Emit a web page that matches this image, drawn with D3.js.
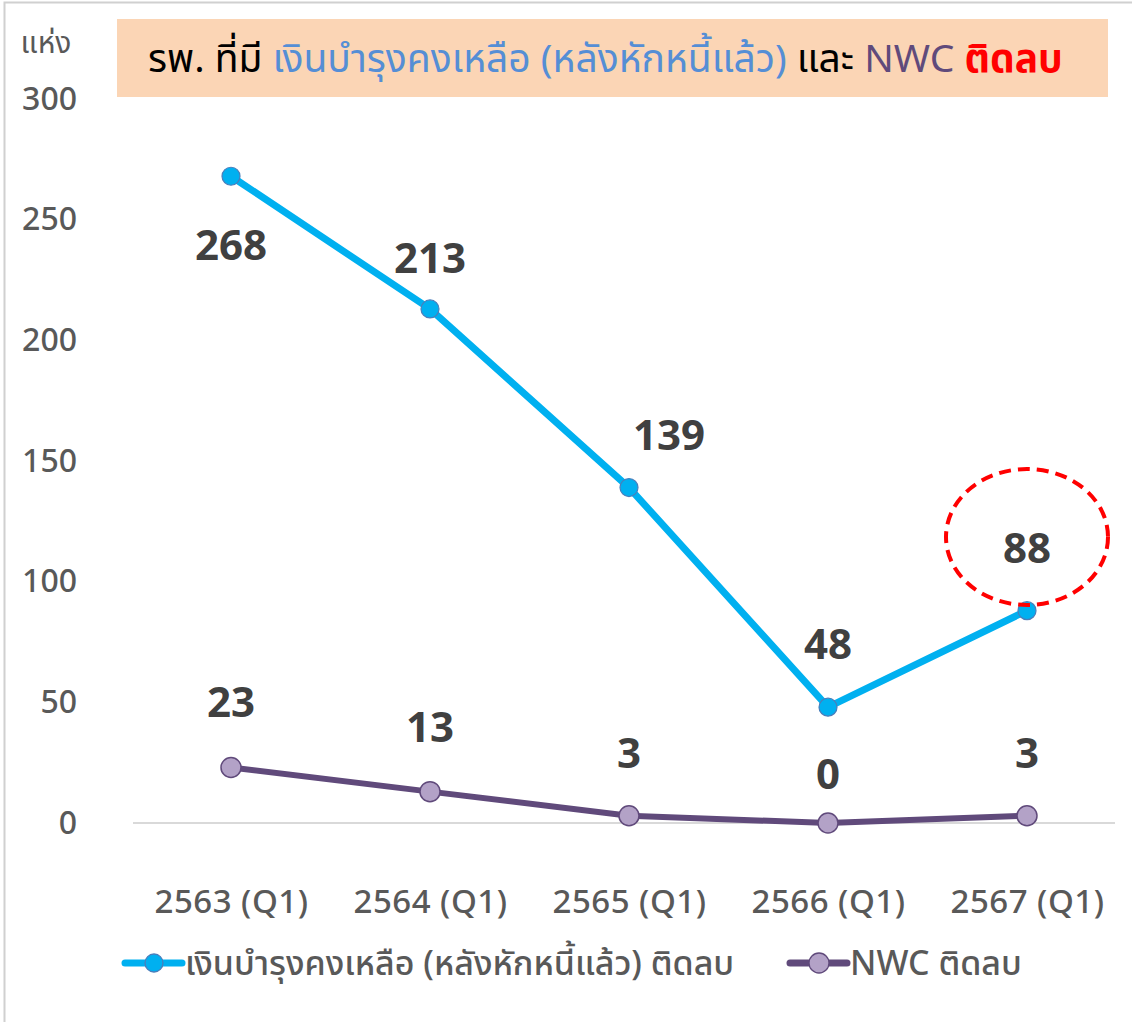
<!DOCTYPE html>
<html>
<head>
<meta charset="utf-8">
<script src="https://cdn.jsdelivr.net/npm/d3@7"></script>
<style>
  body { margin: 0; background: #fff; }
  svg text { font-family: "Noto Sans Thai", "Noto Sans", "Liberation Sans", sans-serif; }
</style>
</head>
<body>
<script>
var categories = ['2563 (Q1)', '2564 (Q1)', '2565 (Q1)', '2566 (Q1)', '2567 (Q1)'];
var fundNegative = [268, 213, 139, 48, 88];
var nwcNegative = [23, 13, 3, 0, 3];
var yTicks = [0, 50, 100, 150, 200, 250, 300];
var seriesNames = ['เงินบำรุงคงเหลือ (หลังหักหนี้แล้ว) ติดลบ', 'NWC ติดลบ'];

// label nudges (px), tuned by eye
var fundLabelDx = [0, 0, 40, 0, 0];
var fundLabelDy = [70, -50, -52, -62, -62];
var nwcLabelDy = [-64, -64, -62, -48, -62];

var w = 1132, h = 1022;

var svg = d3.select('body').append('svg')
  .attr('width', w)
  .attr('height', h);

svg.append('rect')
  .attr('x', 4.5).attr('y', 2.5)
  .attr('width', w + 10).attr('height', h + 10)
  .attr('fill', '#fff').attr('stroke', '#d0d0d0').attr('stroke-width', 2);

var x = d3.scalePoint().domain(categories).range([231, 1027]);
var y = d3.scaleLinear().domain([0, 300]).range([823, 99]);

// baseline
svg.append('line')
  .attr('x1', 133).attr('x2', 1115)
  .attr('y1', y(0)).attr('y2', y(0))
  .attr('stroke', '#d9d9d9').attr('stroke-width', 2);

// y axis labels
var yAxis = d3.axisLeft(y).tickValues(yTicks).tickSize(0).tickPadding(0);
var gy = svg.append('g').attr('transform', 'translate(77,0)').call(yAxis);
gy.select('.domain').remove();
gy.selectAll('text')
  .attr('fill', '#595959').attr('font-size', 32).attr('font-weight', 500);

svg.append('text')
  .attr('x', 46).attr('y', 53)
  .attr('text-anchor', 'middle')
  .attr('fill', '#595959').attr('font-size', 30)
  .text('แห่ง');

// x axis labels
var xAxis = d3.axisBottom(x).tickSize(0).tickPadding(0);
var gx = svg.append('g').attr('transform', 'translate(0,913)').call(xAxis);
gx.select('.domain').remove();
gx.selectAll('text')
  .attr('dy', 0)
  .attr('fill', '#595959').attr('font-size', 33).attr('font-weight', 500)
  .attr('letter-spacing', 0.5);

// title
svg.append('rect')
  .attr('x', 117).attr('y', 19)
  .attr('width', 991).attr('height', 78)
  .attr('fill', '#fbd5b5');

var title = svg.append('text')
  .attr('x', 148).attr('y', 72)
  .attr('font-size', 39);
title.append('tspan').attr('fill', '#000').text('รพ. ที่มี ');
title.append('tspan').attr('fill', '#558ed5').text('เงินบำรุงคงเหลือ (หลังหักหนี้แล้ว)');
title.append('tspan').attr('fill', '#000').text(' และ ');
title.append('tspan').attr('fill', '#604a7b').text('NWC');
title.append('tspan').attr('fill', '#ff0000').attr('font-weight', 'bold').text(' ติดลบ');

var line = d3.line()
  .x(function(d, i) { return x(categories[i]); })
  .y(function(d) { return y(d); });

// series 1
svg.append('path')
  .datum(fundNegative)
  .attr('d', line)
  .attr('fill', 'none').attr('stroke', '#00b0f0').attr('stroke-width', 7)
  .attr('stroke-linejoin', 'round');

svg.selectAll('.m1').data(fundNegative).enter().append('circle')
  .attr('class', 'm1')
  .attr('cx', function(d, i) { return x(categories[i]); })
  .attr('cy', function(d) { return y(d); })
  .attr('r', 9)
  .attr('fill', '#00b0f0').attr('stroke', '#4a7ebb').attr('stroke-width', 1.2);

// series 2
svg.append('path')
  .datum(nwcNegative)
  .attr('d', line)
  .attr('fill', 'none').attr('stroke', '#604a7b').attr('stroke-width', 6)
  .attr('stroke-linejoin', 'round');

svg.selectAll('.m2').data(nwcNegative).enter().append('circle')
  .attr('class', 'm2')
  .attr('cx', function(d, i) { return x(categories[i]); })
  .attr('cy', function(d) { return y(d); })
  .attr('r', 10)
  .attr('fill', '#b3a2c7').attr('stroke', '#604a7b').attr('stroke-width', 1.5);

// data labels
svg.selectAll('.l1').data(fundNegative).enter().append('text')
  .attr('class', 'l1')
  .attr('x', function(d, i) { return x(categories[i]) + fundLabelDx[i]; })
  .attr('y', function(d, i) { return y(d) + fundLabelDy[i] + 14; })
  .attr('text-anchor', 'middle')
  .attr('fill', '#404040').attr('font-size', 42).attr('font-weight', 'bold')
  .text(function(d) { return d; });

svg.selectAll('.l2').data(nwcNegative).enter().append('text')
  .attr('class', 'l2')
  .attr('x', function(d, i) { return x(categories[i]); })
  .attr('y', function(d, i) { return y(d) + nwcLabelDy[i] + 14; })
  .attr('text-anchor', 'middle')
  .attr('fill', '#404040').attr('font-size', 42).attr('font-weight', 'bold')
  .text(function(d) { return d; });

// highlight ellipse round the last value
svg.append('ellipse')
  .attr('cx', x(categories[4])).attr('cy', 537)
  .attr('rx', 81).attr('ry', 68)
  .attr('fill', 'none').attr('stroke', '#ff0000').attr('stroke-width', 4)
  .attr('stroke-dasharray', '12,7');

// legend
var legendItems = [
  { name: seriesNames[0], x: 125, stroke: '#00b0f0', fill: '#00b0f0', ring: '#4a7ebb', r: 9 },
  { name: seriesNames[1], x: 790, stroke: '#604a7b', fill: '#b3a2c7', ring: '#604a7b', r: 10 }
];
var lg = svg.selectAll('.lg').data(legendItems).enter().append('g')
  .attr('transform', function(d) { return 'translate(' + d.x + ',963)'; });
lg.append('line')
  .attr('x1', 0).attr('x2', 57)
  .attr('stroke', function(d) { return d.stroke; })
  .attr('stroke-width', 7).attr('stroke-linecap', 'round');
lg.append('circle')
  .attr('cx', 29).attr('r', function(d) { return d.r; })
  .attr('fill', function(d) { return d.fill; })
  .attr('stroke', function(d) { return d.ring; }).attr('stroke-width', 1.3);
lg.append('text')
  .attr('x', 60).attr('y', 12)
  .attr('fill', '#595959').attr('font-size', 34).attr('font-weight', 500)
  .text(function(d) { return d.name; });
</script>
</body>
</html>
